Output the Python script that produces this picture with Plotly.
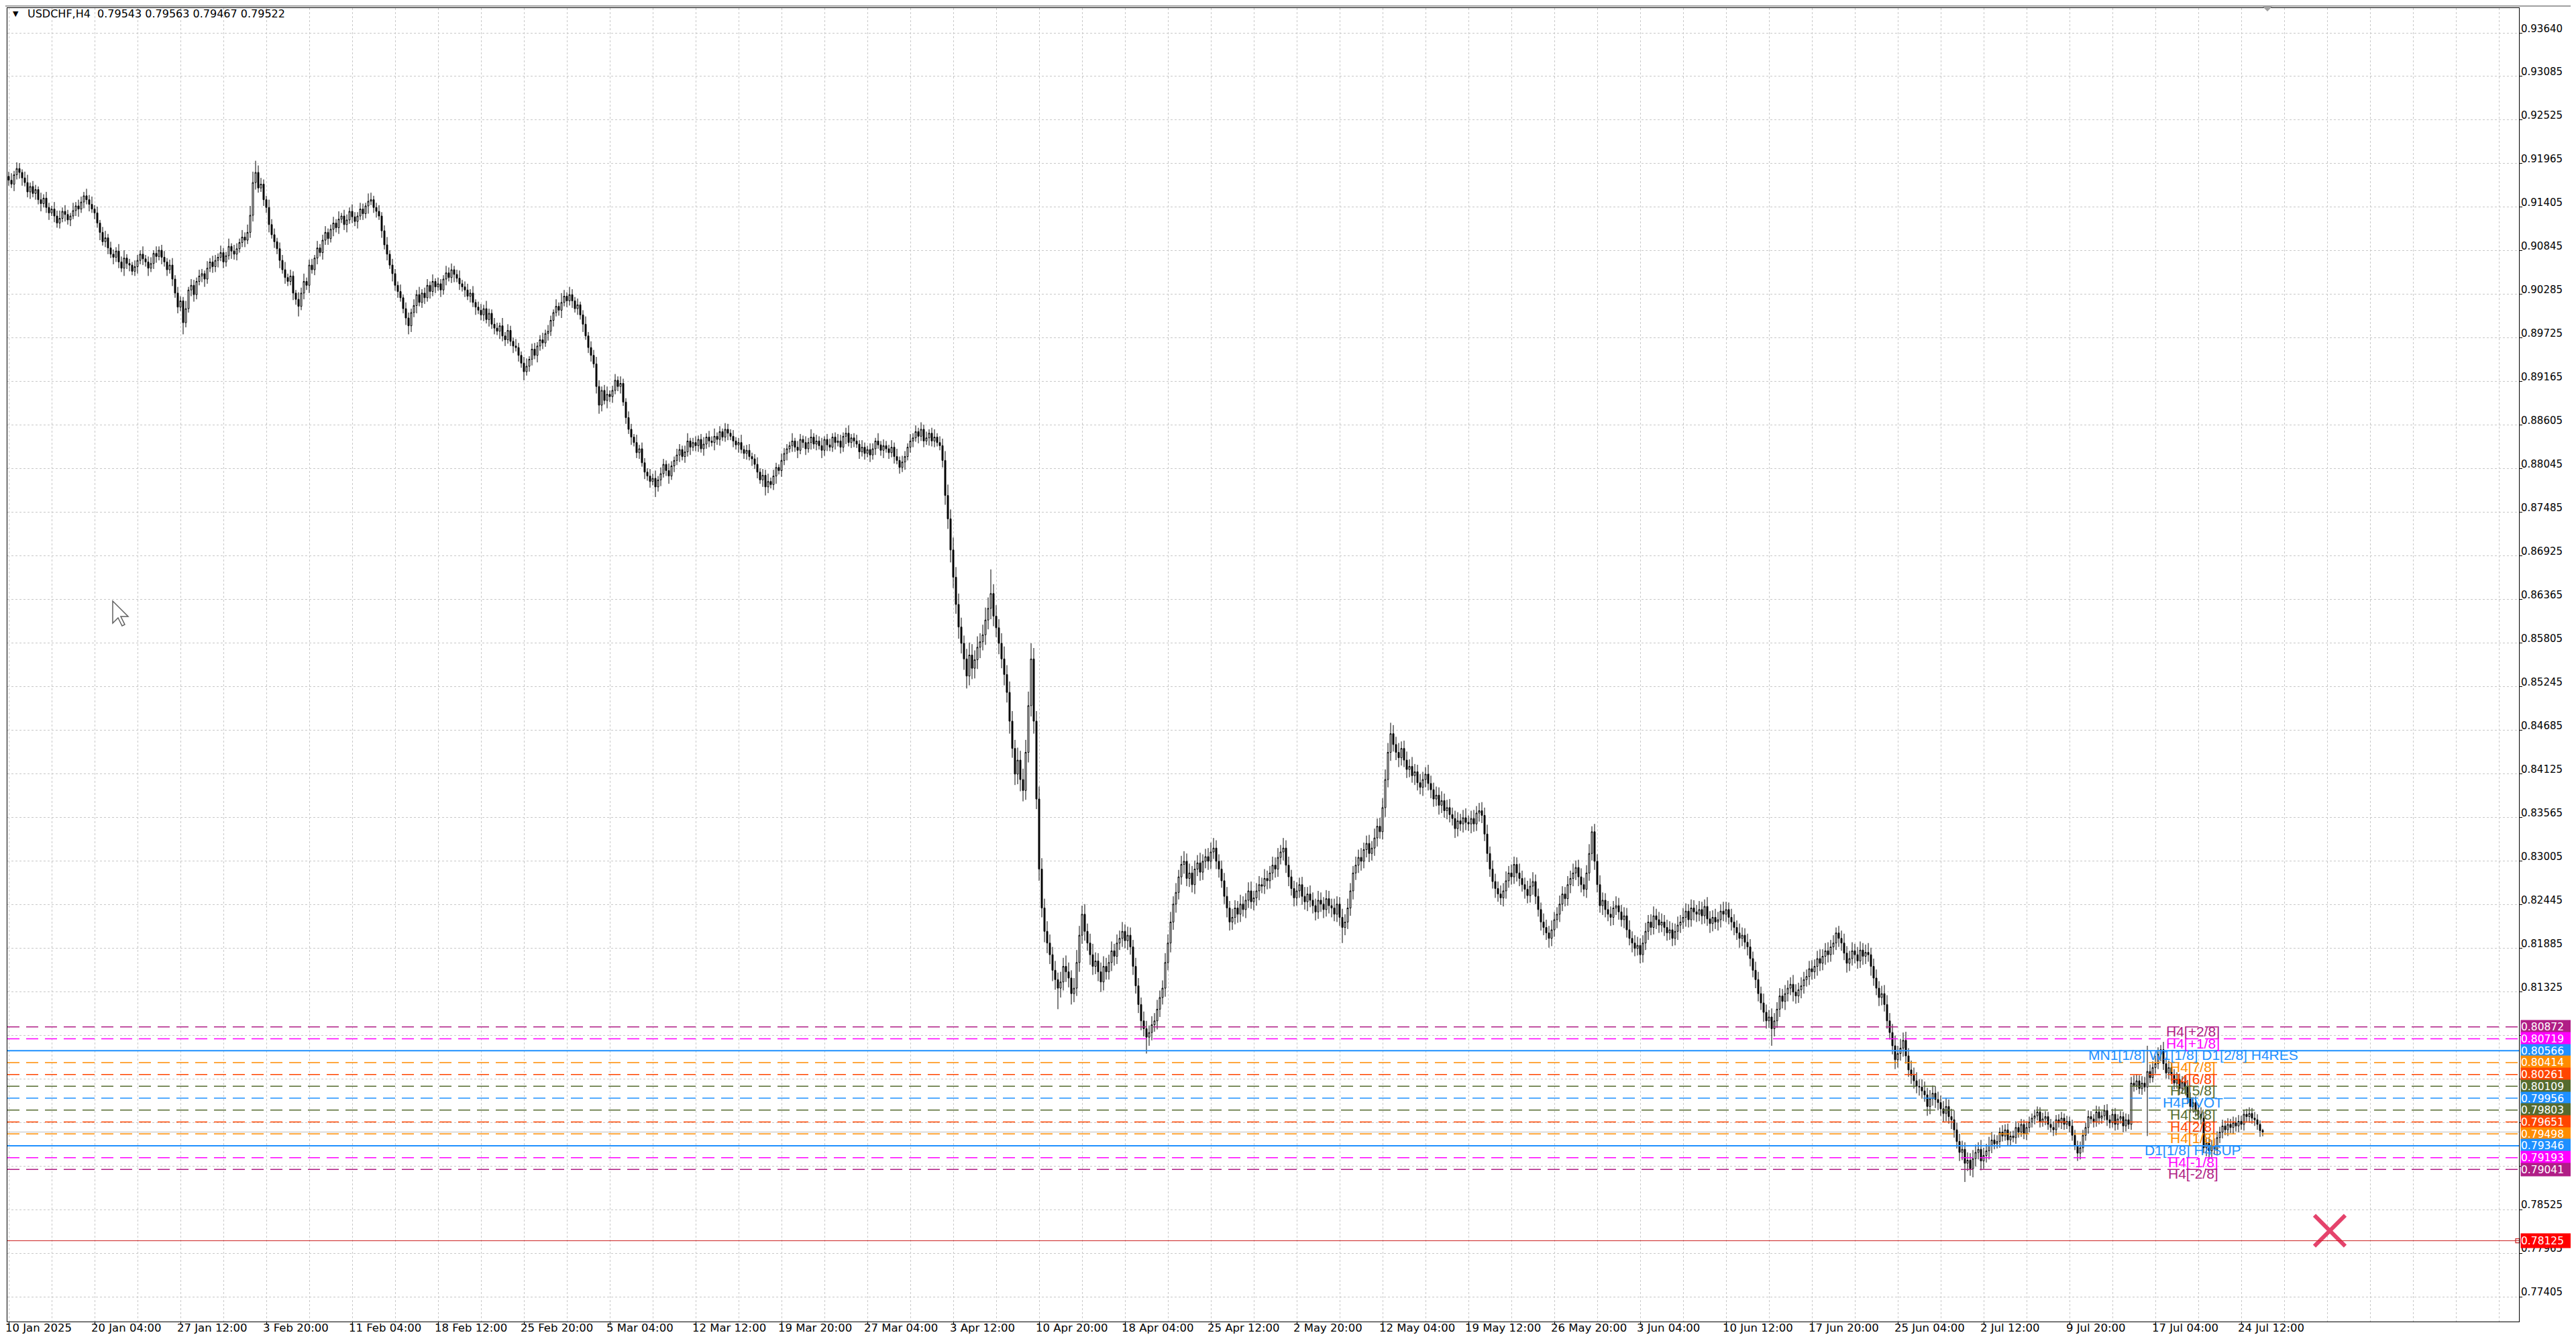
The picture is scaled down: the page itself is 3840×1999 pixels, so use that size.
import plotly.graph_objects as go

# ---------------- DATA (USDCHF H4, prices in pips = price * 10000) ----------------
first_open_pip = 9180
close_pips = [
    9175, 9170, 9182, 9190, 9185, 9178, 9172, 9160, 9167, 9158,
    9163, 9150, 9145, 9152, 9140, 9133, 9138, 9129, 9120, 9126,
    9135, 9131, 9124, 9129, 9136, 9142, 9138, 9147, 9155, 9150,
    9144, 9138, 9133, 9120, 9108, 9096, 9101, 9088, 9080, 9076,
    9084, 9070, 9062, 9075, 9068, 9066, 9058, 9064, 9072, 9080,
    9074, 9070, 9062, 9068, 9081, 9077, 9085, 9076, 9070, 9060,
    9066, 9048, 9030, 9012, 9020, 8992, 9010, 9034, 9040, 9028,
    9045, 9052, 9055, 9048, 9062, 9070, 9064, 9072, 9076, 9082,
    9070, 9078, 9090, 9084, 9080, 9087, 9095, 9102, 9098, 9108,
    9130, 9172, 9185, 9165, 9170, 9150, 9140, 9118, 9105, 9096,
    9087, 9072, 9060, 9050, 9045, 9052, 9030, 9022, 9013, 9030,
    9045, 9040, 9066, 9060, 9075, 9088, 9082, 9098, 9108, 9100,
    9112, 9120, 9114, 9125, 9129, 9118, 9124, 9135, 9128, 9122,
    9129, 9138, 9132, 9142, 9148, 9150, 9140, 9135, 9129, 9110,
    9092, 9080, 9066, 9055, 9040, 9032, 9024, 9010, 8998, 8988,
    9005, 9014, 9028, 9018, 9030, 9024, 9040, 9032, 9045, 9038,
    9042, 9034, 9048, 9056, 9050, 9060, 9054, 9049, 9042, 9038,
    9034, 9026, 9030, 9018, 9012, 9008, 9002, 9010, 8996, 9004,
    8990, 8985, 8981, 8988, 8975, 8970, 8982, 8968, 8962, 8960,
    8950, 8940, 8929, 8936, 8945, 8958, 8950, 8962, 8970, 8966,
    8978, 8981, 8995, 9005, 9013, 9008, 9018, 9026, 9020, 9028,
    9020, 9010, 9015, 9002, 8990, 8975, 8960, 8950, 8939, 8910,
    8886, 8905, 8892, 8900, 8897, 8905, 8918, 8910, 8914, 8890,
    8870, 8855, 8845, 8838, 8825, 8830, 8812, 8800, 8795, 8788,
    8792, 8781, 8790, 8798, 8810, 8802, 8795, 8808, 8815, 8822,
    8829, 8820, 8826, 8840, 8832, 8838, 8834, 8842, 8830, 8836,
    8845, 8840, 8838, 8846, 8842, 8852, 8845, 8855, 8850, 8846,
    8840, 8835, 8838, 8829, 8824, 8828, 8820, 8817, 8810, 8800,
    8790, 8796, 8781, 8788, 8784, 8795, 8806, 8802, 8815, 8824,
    8830, 8834, 8840, 8832, 8828, 8842, 8838, 8830, 8838, 8845,
    8836, 8840, 8834, 8828, 8842, 8835, 8832, 8845, 8838, 8840,
    8832, 8846, 8850, 8838, 8844, 8840, 8836, 8826, 8832, 8824,
    8829, 8822, 8830, 8840, 8835, 8828, 8834, 8830, 8825, 8832,
    8820, 8815, 8806, 8813, 8820, 8832, 8840, 8844, 8852, 8846,
    8855, 8840, 8844, 8850, 8840, 8845, 8838, 8834, 8815, 8770,
    8740, 8700, 8665, 8630, 8601, 8580, 8560, 8538, 8565, 8548,
    8559, 8575, 8582, 8591, 8610, 8625, 8644, 8615, 8600, 8580,
    8560, 8540, 8517, 8480, 8445, 8412, 8430, 8405, 8391, 8440,
    8500, 8560, 8480, 8380, 8290, 8240, 8210, 8195, 8180, 8160,
    8148, 8137, 8145, 8165, 8158, 8150, 8130, 8137, 8170, 8205,
    8232, 8210, 8195, 8180, 8165, 8172, 8158, 8145, 8165, 8158,
    8170, 8185, 8178, 8195, 8201, 8210, 8198, 8205, 8190, 8165,
    8140, 8116, 8095, 8085, 8074, 8080, 8090, 8095, 8110, 8125,
    8137, 8170, 8195, 8222, 8245, 8260, 8280, 8296, 8300, 8278,
    8285, 8270, 8290, 8298, 8286, 8300, 8306, 8300, 8312, 8317,
    8300, 8290, 8275, 8255, 8240, 8222, 8228, 8240, 8232, 8245,
    8238, 8250, 8262, 8248, 8253, 8262, 8270, 8268, 8278, 8275,
    8285, 8295, 8290, 8305, 8312, 8317, 8295, 8280, 8265, 8253,
    8262, 8270, 8255, 8248, 8258, 8250, 8243, 8235, 8250, 8245,
    8238, 8252, 8243, 8240, 8232, 8245, 8228, 8215, 8222, 8240,
    8262, 8285, 8295, 8305, 8300, 8315, 8323, 8310, 8317, 8330,
    8345, 8338, 8369, 8405, 8440, 8464, 8450, 8440, 8433, 8445,
    8430, 8418, 8422, 8410, 8415, 8401, 8395, 8405, 8412, 8400,
    8392, 8380, 8385, 8372, 8378, 8365, 8369, 8360, 8355, 8342,
    8352, 8348, 8356, 8350, 8348, 8355, 8348, 8362, 8365, 8359,
    8335, 8310, 8290, 8274, 8265, 8258, 8253, 8262, 8275, 8285,
    8280, 8296, 8285, 8278, 8270, 8264, 8256, 8268, 8274, 8255,
    8238, 8222, 8215, 8208, 8201, 8212, 8225, 8232, 8245, 8258,
    8252, 8270, 8278, 8285, 8292, 8280, 8270, 8264, 8285, 8310,
    8338, 8300, 8270, 8243, 8250, 8238, 8232, 8228, 8240, 8243,
    8235, 8225, 8230, 8212, 8201, 8195, 8188, 8192, 8180, 8195,
    8210, 8222, 8215, 8230, 8225, 8218, 8222, 8215, 8208, 8212,
    8201, 8210, 8218, 8222, 8228, 8236, 8225, 8240, 8235, 8232,
    8238, 8230, 8242, 8226, 8220, 8228, 8222, 8225, 8236, 8232,
    8238, 8228, 8222, 8215, 8208, 8201, 8205, 8196, 8190, 8175,
    8160, 8148, 8130, 8118, 8106, 8095, 8100, 8085, 8095, 8110,
    8127, 8120, 8130, 8137, 8142, 8132, 8127, 8135, 8140, 8148,
    8152, 8162, 8158, 8165, 8175, 8169, 8178, 8185, 8180, 8190,
    8195, 8208, 8201, 8195, 8182, 8169, 8175, 8185, 8180, 8172,
    8186, 8178, 8183, 8180, 8165, 8150, 8137, 8125, 8130, 8116,
    8095, 8080, 8063, 8045, 8053, 8060, 8070, 8050, 8032, 8025,
    8018, 8011, 8010, 8005, 8000, 7985, 7995, 8002, 7994, 7990,
    7982, 7976, 7985, 7972, 7968, 7955, 7940, 7926, 7930, 7912,
    7916, 7905, 7918, 7926, 7930, 7915, 7922, 7928, 7935, 7942,
    7937, 7940, 7952, 7947, 7955, 7942, 7947, 7945, 7958, 7952,
    7962, 7950, 7958, 7965, 7970, 7973, 7978, 7965, 7969, 7972,
    7962, 7958, 7955, 7968, 7964, 7970, 7962, 7966, 7960, 7948,
    7935, 7925, 7932, 7948, 7958, 7972, 7969, 7965, 7978, 7970,
    7973, 7980, 7968, 7964, 7975, 7962, 7969, 7972, 7960, 7968,
    7962, 8015, 8012, 8018, 8008, 8015, 8010, 8030, 8022, 8035,
    8040, 8052, 8058, 8040, 8028, 8035, 8025, 8015, 8020, 8008,
    8016, 8010, 7995, 7985, 7990, 7980, 7975, 7970, 7932, 7938,
    7928, 7935, 7930, 7945, 7952, 7960, 7955, 7962, 7958, 7964,
    7960, 7966, 7962, 7975, 7972, 7976, 7970, 7968, 7962, 7954,
    7952,
]
# wick lengths in pips: above the body top / below the body bottom
wick_up = [
    6, 9, 5, 8, 7, 4, 8, 10, 5, 7,  6, 4, 9, 5, 8, 6, 4, 9, 7, 10,
    5, 8, 6, 4, 10, 5, 8, 7, 5, 9,  6, 10, 5, 8, 4, 7, 9, 5, 8, 6,
    5, 9, 7, 10, 5, 6, 4, 8, 7, 5,  10, 5, 7, 8, 4, 9, 5, 7, 8, 5,
    7, 9, 5, 8, 6, 5, 10, 4, 8, 7,  5, 8, 6, 4, 9, 5, 8, 7, 5, 9,
    6, 5, 10, 4, 8, 7, 5, 9, 6, 10,  12, 14, 15, 9, 8, 6, 5, 10, 7, 8,
    5, 8, 7, 10, 5, 8, 6, 4, 9, 7,  10, 5, 7, 8, 4, 9, 5, 7, 8, 5,
    6, 8, 5, 10, 4, 8, 7, 5, 9, 6,  5, 8, 7, 4, 10, 9, 5, 6, 8, 5,
    7, 10, 5, 8, 6, 5, 9, 4, 8, 7,  5, 8, 6, 10, 5, 7, 8, 5, 9, 4,
    8, 6, 5, 9, 7, 8, 5, 6, 10, 5,  7, 8, 5, 9, 4, 7, 8, 5, 10, 6,
    5, 8, 7, 4, 10, 5, 8, 6, 5, 9,  6, 5, 8, 10, 4, 7, 8, 5, 6, 9,
    5, 8, 6, 4, 9, 5, 12, 8, 5, 10,  7, 5, 8, 4, 6, 10, 5, 8, 7, 9,
    8, 5, 7, 10, 5, 6, 8, 5, 9, 6,  5, 8, 7, 4, 10, 5, 8, 6, 5, 9,
    6, 10, 5, 8, 7, 5, 9, 6, 5, 8,  7, 5, 8, 10, 4, 6, 8, 5, 7, 9,
    5, 8, 6, 10, 5, 7, 4, 8, 7, 5,  8, 5, 6, 10, 5, 7, 8, 5, 6, 9,
    5, 8, 7, 10, 5, 8, 6, 4, 9, 7,  6, 5, 10, 4, 8, 7, 5, 8, 6, 10,
    5, 8, 6, 10, 4, 7, 8, 5, 6, 9,  8, 5, 7, 10, 5, 6, 8, 5, 9, 6,
    5, 8, 7, 4, 10, 5, 8, 6, 5, 9,  6, 10, 5, 8, 7, 5, 9, 6, 8, 5,
    9, 6, 8, 5, 7, 10, 5, 8, 9, 12,  14, 12, 16, 13, 14, 12, 10, 13, 16, 14,
    12, 14, 11, 13, 16, 14, 31, 12, 14, 11,  13, 16, 12, 14, 13, 11, 16, 12, 14, 16,
    18, 20, 14, 13, 16, 14, 12, 13, 11, 10,  12, 9, 13, 11, 14, 12, 10, 13, 16, 12,
    11, 13, 10, 12, 14, 11, 10, 12, 13, 11,  10, 12, 9, 11, 10, 12, 9, 11, 10, 9,
    11, 10, 9, 12, 10, 9, 11, 10, 12, 9,  10, 12, 11, 13, 10, 12, 9, 11, 13, 10,
    12, 9, 11, 10, 13, 9, 10, 11, 12, 13,  10, 9, 11, 10, 12, 9, 11, 10, 9, 12,
    10, 9, 11, 12, 9, 10, 11, 9, 12, 10,  9, 11, 10, 12, 9, 13, 10, 11, 9, 10,
    11, 9, 10, 12, 9, 11, 10, 9, 12, 10,  9, 11, 10, 9, 12, 10, 9, 11, 10, 12,
    10, 9, 11, 10, 12, 9, 10, 11, 9, 12,  10, 11, 12, 13, 12, 14, 11, 10, 12, 9,
    10, 11, 9, 12, 10, 9, 11, 10, 9, 12,  10, 9, 11, 10, 12, 9, 10, 11, 9, 10,
    11, 9, 10, 12, 9, 10, 11, 9, 10, 11,  10, 12, 9, 11, 10, 9, 11, 10, 12, 9,
    11, 10, 9, 12, 10, 9, 11, 10, 12, 9,  10, 9, 11, 10, 9, 12, 10, 9, 11, 10,
    9, 11, 10, 12, 9, 10, 11, 9, 10, 12,  7, 10, 9, 12, 10, 9, 11, 10, 9, 12,
    10, 9, 11, 10, 12, 9, 10, 11, 9, 10,  11, 9, 10, 12, 9, 10, 11, 9, 10, 11,
    9, 10, 11, 9, 12, 10, 9, 11, 10, 9,  11, 10, 9, 12, 10, 9, 11, 10, 9, 12,
    10, 9, 11, 10, 9, 12, 10, 9, 11, 10,  9, 11, 10, 9, 12, 10, 9, 11, 10, 9,
    10, 9, 11, 10, 9, 12, 10, 9, 11, 10,  9, 10, 11, 9, 10, 12, 9, 10, 11, 9,
    10, 7, 9, 10, 12, 9, 10, 11, 9, 10,  11, 9, 10, 12, 9, 10, 11, 9, 10, 11,
    12, 10, 11, 13, 10, 12, 10, 11, 10, 12,  10, 11, 9, 10, 12, 9, 11, 10, 9, 10,
    9, 10, 11, 9, 10, 12, 9, 10, 11, 9,  10, 9, 11, 10, 9, 12, 10, 9, 11, 10,
    7, 8, 6, 9, 7, 8, 6, 7, 8, 6,  7, 6, 8, 7, 6, 8, 7, 6, 8, 7,
    6, 7, 8, 6, 7, 8, 6, 7, 6, 8,  7, 6, 8, 7, 6, 8, 7, 6, 8, 7,
    6, 7, 8, 6, 7, 8, 6, 7, 6, 8,  7, 8, 10, 8, 7, 9, 8, 33, 9, 8,
    10, 9, 6, 10, 8, 9, 7, 8, 9, 7,  8, 7, 9, 8, 7, 8, 7, 9, 8, 7,
    8, 7, 9, 8, 7, 8, 7, 8, 7, 8,  7, 8, 7, 6, 7, 8, 7, 8, 7, 5,
    2,
]
wick_down = [
    7, 5, 9, 6, 8, 10, 5, 7, 9, 5,  8, 6, 10, 5, 7, 9, 4, 8, 6, 7,
    5, 9, 6, 8, 4, 7, 10, 5, 8, 6,  9, 5, 8, 6, 10, 5, 7, 8, 5, 9,
    6, 8, 5, 10, 7, 8, 5, 6, 9, 5,  8, 6, 10, 5, 7, 8, 5, 9, 6, 8,
    5, 9, 6, 8, 5, 15, 6, 5, 8, 9,  6, 5, 8, 10, 6, 5, 8, 7, 9, 5,
    8, 6, 5, 10, 7, 8, 5, 6, 9, 5,  7, 8, 9, 6, 5, 8, 7, 10, 5, 8,
    7, 10, 5, 8, 6, 5, 9, 7, 13, 5,  8, 6, 10, 5, 7, 8, 5, 9, 6, 8,
    5, 9, 6, 8, 5, 7, 10, 5, 8, 6,  9, 5, 8, 6, 10, 5, 7, 8, 5, 9,
    6, 8, 5, 10, 7, 8, 5, 6, 9, 11,  8, 6, 10, 5, 7, 8, 5, 9, 6, 8,
    5, 9, 6, 8, 5, 7, 10, 5, 8, 6,  9, 5, 8, 6, 10, 5, 7, 8, 5, 9,
    6, 8, 5, 10, 7, 8, 5, 6, 9, 5,  8, 6, 11, 5, 7, 8, 5, 9, 6, 8,
    5, 9, 6, 8, 5, 7, 10, 5, 8, 6,  9, 5, 8, 6, 10, 5, 7, 8, 5, 9,
    11, 8, 5, 10, 7, 8, 5, 6, 9, 5,  8, 6, 10, 5, 7, 8, 5, 9, 6, 8,
    5, 13, 6, 8, 5, 7, 10, 5, 8, 6,  9, 5, 8, 6, 10, 5, 7, 8, 5, 9,
    6, 8, 5, 10, 7, 8, 5, 6, 9, 5,  8, 6, 10, 5, 7, 8, 5, 9, 6, 8,
    5, 9, 11, 8, 5, 7, 10, 5, 8, 6,  9, 5, 8, 6, 10, 5, 7, 8, 5, 9,
    6, 8, 5, 10, 7, 8, 5, 6, 9, 5,  8, 6, 10, 5, 7, 8, 5, 9, 6, 8,
    5, 9, 6, 8, 5, 7, 10, 5, 8, 6,  9, 5, 8, 6, 10, 5, 7, 8, 5, 9,
    6, 8, 5, 10, 7, 8, 5, 6, 9, 12,  13, 16, 14, 12, 15, 13, 14, 16, 12, 14,
    13, 12, 14, 11, 13, 12, 14, 13, 12, 14,  12, 14, 13, 16, 12, 14, 13, 15, 14, 12,
    13, 14, 16, 13, 15, 12, 14, 13, 12, 14,  13, 27, 12, 11, 13, 12, 14, 11, 10, 12,
    11, 12, 10, 13, 11, 10, 12, 13, 11, 10,  10, 11, 12, 10, 9, 11, 10, 12, 10, 11,
    10, 11, 12, 10, 21, 11, 10, 9, 11, 10,  9, 11, 10, 12, 10, 11, 9, 10, 12, 10,
    11, 10, 12, 9, 11, 10, 9, 11, 10, 9,  10, 11, 9, 10, 12, 11, 10, 9, 11, 10,
    9, 11, 10, 9, 11, 10, 12, 9, 10, 11,  10, 9, 11, 10, 9, 11, 10, 12, 9, 11,
    10, 9, 11, 10, 12, 9, 10, 11, 9, 10,  11, 9, 10, 12, 9, 10, 11, 20, 10, 9,
    10, 11, 9, 10, 12, 9, 10, 11, 9, 10,  11, 9, 10, 12, 10, 11, 9, 10, 12, 10,
    9, 11, 10, 9, 12, 10, 9, 11, 10, 9,  11, 10, 9, 12, 10, 9, 11, 10, 9, 12,
    10, 9, 11, 10, 9, 12, 10, 9, 11, 10,  9, 11, 10, 9, 12, 10, 9, 11, 10, 9,
    10, 9, 11, 10, 9, 12, 10, 9, 11, 10,  9, 11, 10, 9, 12, 10, 9, 11, 10, 9,
    10, 9, 11, 10, 9, 12, 10, 9, 11, 10,  9, 11, 10, 9, 12, 10, 9, 11, 10, 9,
    10, 9, 11, 10, 9, 12, 10, 9, 11, 10,  9, 11, 10, 9, 12, 10, 9, 11, 10, 9,
    10, 9, 11, 10, 9, 12, 10, 9, 11, 10,  9, 11, 10, 9, 12, 10, 9, 11, 10, 9,
    10, 9, 11, 10, 9, 12, 10, 9, 11, 10,  9, 11, 10, 9, 12, 10, 9, 22, 10, 9,
    10, 9, 11, 10, 9, 12, 10, 9, 11, 10,  9, 11, 10, 9, 12, 10, 9, 11, 10, 9,
    10, 9, 11, 10, 9, 12, 10, 9, 11, 10,  9, 11, 10, 9, 12, 10, 9, 11, 10, 9,
    10, 9, 11, 12, 10, 9, 11, 10, 9, 11,  10, 9, 11, 10, 9, 12, 10, 9, 11, 10,
    9, 11, 10, 9, 12, 10, 9, 11, 10, 24,  10, 9, 11, 10, 9, 12, 10, 9, 11, 10,
    7, 6, 8, 7, 6, 8, 7, 6, 8, 7,  6, 7, 8, 6, 7, 8, 6, 7, 6, 8,
    7, 6, 8, 7, 6, 8, 7, 6, 8, 7,  6, 10, 8, 6, 7, 8, 6, 7, 6, 8,
    7, 6, 8, 7, 6, 8, 7, 6, 8, 7,  6, 7, 8, 6, 7, 8, 6, 63, 7, 6,
    8, 7, 9, 8, 7, 8, 7, 8, 7, 8,  7, 8, 7, 8, 7, 8, 7, 8, 7, 11,
    11, 8, 7, 8, 7, 8, 7, 8, 7, 8,  7, 8, 7, 8, 7, 8, 7, 8, 7, 8,
    5,
]
# last (current) bar, as printed in the chart header: open, high, low, close
last_bar_ohlc = [0.79543, 0.79563, 0.79467, 0.79522]

x_tick_labels = ["10 Jan 2025", "20 Jan 04:00", "27 Jan 12:00", "3 Feb 20:00", "11 Feb 04:00",
                 "18 Feb 12:00", "25 Feb 20:00", "5 Mar 04:00", "12 Mar 12:00", "19 Mar 20:00",
                 "27 Mar 04:00", "3 Apr 12:00", "10 Apr 20:00", "18 Apr 04:00", "25 Apr 12:00",
                 "2 May 20:00", "12 May 04:00", "19 May 12:00", "26 May 20:00", "3 Jun 04:00",
                 "10 Jun 12:00", "17 Jun 20:00", "25 Jun 04:00", "2 Jul 12:00", "9 Jul 20:00",
                 "17 Jul 04:00", "24 Jul 12:00"]
bars_per_label = 32
y_tick_values = [0.93640, 0.93085, 0.92525, 0.91965, 0.91405, 0.90845, 0.90285, 0.89725,
                 0.89165, 0.88605, 0.88045, 0.87485, 0.86925, 0.86365, 0.85805, 0.85245,
                 0.84685, 0.84125, 0.83565, 0.83005, 0.82445, 0.81885, 0.81325, 0.80765,
                 0.80205, 0.79645, 0.79085, 0.78525, 0.77965, 0.77405]

level_values = [0.80872, 0.80719, 0.80566, 0.80414, 0.80261, 0.80109, 0.79956,
                0.79803, 0.79651, 0.79498, 0.79346, 0.79193, 0.79041]
level_names = ["H4[+2/8]", "H4[+1/8]", "MN1[1/8] W1[1/8] D1[2/8] H4RES", "H4[7/8]", "H4[6/8]",
               "H4[5/8]", "H4PIVOT", "H4[3/8]", "H4[2/8]", "H4[1/8]", "D1[1/8] H4SUP",
               "H4[-1/8]", "H4[-2/8]"]
level_colors = ["#B01E86", "#FF00FF", "#1E90FF", "#FF8C00", "#FF4500", "#556B2F", "#1E90FF",
                "#556B2F", "#FF4500", "#FF8C00", "#1E90FF", "#FF00FF", "#B01E86"]
level_solid = [False, False, True, False, False, False, False,
               False, False, False, True, False, False]
level_label_bar = 814

stop_value = 0.78125
cross_bar, cross_value = 865, 0.78254
symbol_text = "USDCHF,H4"

# ---------------- BUILD ----------------
n = min(len(close_pips), len(wick_up), len(wick_down))
closes = [c / 10000 for c in close_pips[:n]]
opens = [first_open_pip / 10000] + closes[:-1]
highs = [max(o, c) + w / 10000 for o, c, w in zip(opens, closes, wick_up)]
lows = [min(o, c) - w / 10000 for o, c, w in zip(opens, closes, wick_down)]
last = n - 1
opens[last], highs[last], lows[last], closes[last] = last_bar_ohlc
xs = list(range(n))

W, H = 3840, 1999
ML, MR, MT, MB = 3, 93, 4, 37
PW, PH = W - ML - MR, H - MT - MB


def px(xp):
    return (xp - ML) / PW


def py(yp):
    return 1 - (yp - MT) / PH


fig = go.Figure()
fig.add_trace(go.Candlestick(
    x=xs, open=opens, high=highs, low=lows, close=closes,
    increasing=dict(fillcolor="#FFFFFF", line=dict(color="#000000", width=1)),
    decreasing=dict(fillcolor="#000000", line=dict(color="#000000", width=1)),
    whiskerwidth=0, hoverinfo="skip", showlegend=False,
))

shapes = []
# bid line
shapes.append(dict(type="line", xref="paper", x0=0, x1=1, yref="y",
                   y0=closes[last], y1=closes[last], line=dict(color="#C0C0C0", width=1), layer="below"))
for v, c, solid in zip(level_values, level_colors, level_solid):
    shapes.append(dict(type="line", xref="paper", x0=0, x1=1, yref="y", y0=v, y1=v,
                       line=dict(color=c, width=2 if solid else 1.5,
                                 dash="solid" if solid else "18px,10px")))
shapes.append(dict(type="line", xref="paper", x0=0, x1=1, yref="y", y0=stop_value, y1=stop_value,
                   line=dict(color="#CC2222", width=1)))

# window chrome (top border, bottom strip, shift marker)
shapes.append(dict(type="rect", xref="paper", yref="paper", x0=px(0), x1=px(W), y0=py(0), y1=py(2),
                   line=dict(width=0), fillcolor="#A0A0A0"))
shapes.append(dict(type="rect", xref="paper", yref="paper", x0=px(0), x1=px(W), y0=py(1993), y1=py(H),
                   line=dict(width=0), fillcolor="#EDE9E9"))
shapes.append(dict(type="path", xref="paper", yref="paper",
                   path=f"M {px(3364)} {py(1)} L {px(3380)} {py(1)} L {px(3372)} {py(9)} Z",
                   line=dict(width=0), fillcolor="#A0A0A0"))
# mouse pointer
cur = [(0, 0), (0, 33), (8, 25), (14, 37), (18, 35), (12, 23), (23, 23)]
cx, cy = 160, 888
path = "M " + " L ".join(f"{px(cx + a)} {py(cy + b)}" for a, b in cur) + " Z"
shapes.append(dict(type="path", xref="paper", yref="paper", path=path,
                   line=dict(color="#606060", width=1.5), fillcolor="#FFFFFF"))

annotations = []
for v, name, c in zip(level_values, level_names, level_colors):
    annotations.append(dict(x=level_label_bar, y=v, xref="x", yref="y", text=name, showarrow=False,
                            xanchor="center", yanchor="top", yshift=7,
                            font=dict(family="Liberation Sans, Arial", size=21, color=c)))
for v, c in zip(level_values, level_colors):
    annotations.append(dict(x=1, y=v, xref="paper", yref="y", text=f"{v:.5f}", showarrow=False,
                            xanchor="left", yanchor="middle", xshift=2, bgcolor=c, borderpad=0,
                            width=74, height=19, align="left",
                            font=dict(family="DejaVu Sans", size=15.5, color="#FFFFFF")))
annotations.append(dict(x=1, y=stop_value, xref="paper", yref="y", text=f"{stop_value:.5f}",
                        showarrow=False, xanchor="left", yanchor="middle", xshift=2, bgcolor="#FF0000",
                        borderpad=0, width=74, height=21, align="left",
                        font=dict(family="DejaVu Sans", size=15.5, color="#FFFFFF")))
title_vals = f"{opens[last]:.5f} {highs[last]:.5f} {lows[last]:.5f} {closes[last]:.5f}"
annotations.append(dict(x=0, y=1, xref="paper", yref="paper", text="▼", showarrow=False,
                        xanchor="left", yanchor="middle", xshift=6, yshift=-8,
                        font=dict(family="DejaVu Sans", size=11, color="#000000")))
annotations.append(dict(x=0, y=1, xref="paper", yref="paper", text=f"{symbol_text}  {title_vals}",
                        showarrow=False, xanchor="left", yanchor="middle", xshift=28, yshift=-8,
                        font=dict(family="DejaVu Sans", size=16, color="#000000")))

# stop-level square marker and the cross object
fig.add_trace(go.Scatter(x=[935], y=[stop_value], mode="markers", cliponaxis=False,
                         marker=dict(symbol="square-open", size=6, color="#CC2222", line=dict(width=1.2)),
                         hoverinfo="skip", showlegend=False))
fig.add_trace(go.Scatter(x=[cross_bar], y=[cross_value], mode="markers",
                         marker=dict(symbol="x-thin", size=46, line=dict(width=6, color="#E5436C")),
                         hoverinfo="skip", showlegend=False))

tickvals = [k * bars_per_label for k in range(len(x_tick_labels))]
fig.update_layout(
    width=W, height=H, margin=dict(l=ML, r=MR, t=MT, b=MB, autoexpand=False),
    paper_bgcolor="#FFFFFF", plot_bgcolor="#FFFFFF", hovermode=False,
    shapes=shapes, annotations=annotations, showlegend=False,
    font=dict(family="DejaVu Sans", size=16, color="#000000"),
    xaxis=dict(range=[-0.5, 935.5], tickmode="array", tickvals=tickvals, ticktext=x_tick_labels,
               ticks="outside", ticklen=4, tickcolor="#000000", ticklabelposition="outside right",
               ticklabelstandoff=-6, ticklabelshift=-6, ticklabeloverflow="allow", automargin=False,
               showgrid=True, gridcolor="#C8C8C8", griddash="3px,3px", gridwidth=1,
               minor=dict(tickmode="linear", tick0=0, dtick=bars_per_label // 2, showgrid=True,
                          gridcolor="#C8C8C8", griddash="3px,3px", ticks=""),
               showline=True, mirror=True, linecolor="#000000", linewidth=1,
               rangeslider=dict(visible=False), zeroline=False, fixedrange=True,
               tickfont=dict(family="DejaVu Sans", size=16.5, color="#000000")),
    yaxis=dict(range=[0.77087, 0.93962], side="right", tickmode="array", tickvals=y_tick_values,
               ticktext=[f"{v:.5f}" for v in y_tick_values],
               ticks="outside", ticklen=4, tickcolor="#000000",
               ticklabelstandoff=-5, ticklabelshift=-7, ticklabeloverflow="allow", automargin=False,
               showgrid=True, gridcolor="#C8C8C8", griddash="3px,3px", gridwidth=1,
               showline=True, mirror=True, linecolor="#000000", linewidth=1, zeroline=False,
               tickfont=dict(family="DejaVu Sans", size=15, color="#000000")),
)

fig.write_html("out.html")
